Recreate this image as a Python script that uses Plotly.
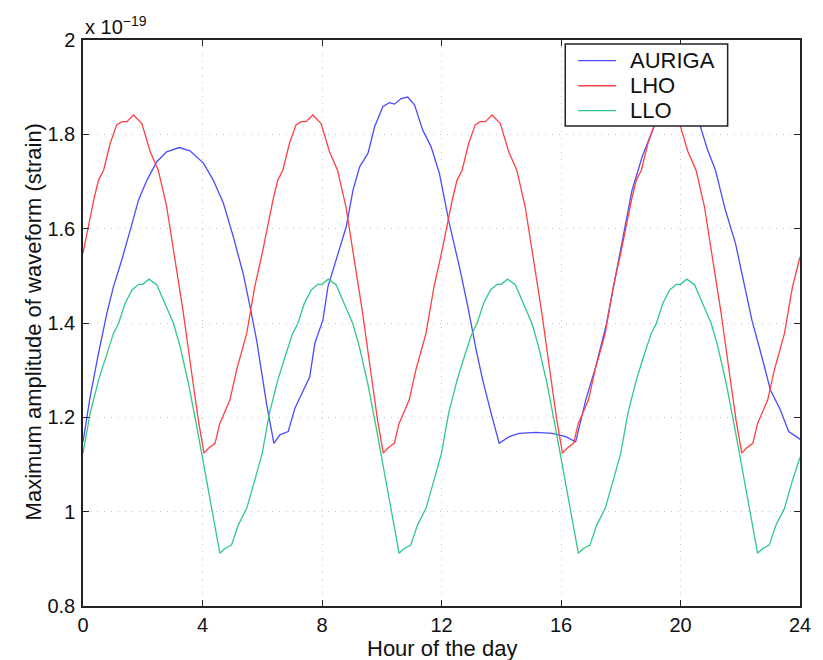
import plotly.graph_objects as go

# ---------------- data ----------------
auriga_x = [0, 0.24, 0.52, 0.80, 1.02, 1.30, 1.58, 1.86, 2.14, 2.47, 2.80, 3.22, 3.58,
            4.03, 4.36, 4.70, 5.03, 5.36, 5.59, 5.81, 6.14, 6.39, 6.59, 6.87, 7.09, 7.37,
            7.59, 7.76, 8.03, 8.20, 8.53, 8.81, 9.04, 9.26, 9.54, 9.76, 10.04, 10.26,
            10.43, 10.65, 10.87, 11.10, 11.37, 11.65, 11.93, 12.26, 12.60, 12.88, 13.16,
            13.38, 13.66, 13.93, 14.27, 14.60, 15.16, 15.71, 16.16, 16.49, 16.83, 17.16,
            17.50, 17.83, 18.11, 18.38, 18.72, 19.11, 19.40, 19.70, 20.00, 20.30, 20.67,
            20.89, 21.17, 21.50, 21.84, 22.11, 22.39, 22.72, 23.01, 23.34, 23.62, 23.95, 24.0]
auriga_y = [1.148, 1.244, 1.336, 1.421, 1.477, 1.534, 1.597, 1.661, 1.703, 1.742, 1.763,
            1.772, 1.765, 1.739, 1.703, 1.654, 1.583, 1.505, 1.435, 1.364, 1.230, 1.145,
            1.163, 1.170, 1.219, 1.258, 1.286, 1.357, 1.406, 1.477, 1.548, 1.604, 1.682,
            1.731, 1.760, 1.816, 1.859, 1.867, 1.864, 1.876, 1.879, 1.862, 1.809, 1.774,
            1.717, 1.611, 1.519, 1.435, 1.343, 1.279, 1.209, 1.145, 1.159, 1.166, 1.168,
            1.166, 1.159, 1.148, 1.237, 1.307, 1.392, 1.498, 1.590, 1.682, 1.753, 1.816,
            1.850, 1.870, 1.875, 1.860, 1.816, 1.770, 1.724, 1.640, 1.569, 1.491, 1.406,
            1.329, 1.258, 1.216, 1.170, 1.156, 1.153]

lho_x = [0, 0.36, 0.52, 0.69, 0.91, 1.13, 1.30, 1.47, 1.69, 1.97, 2.25, 2.52, 2.80, 3.08,
         3.36, 3.64, 3.86, 4.05, 4.19, 4.42, 4.58, 4.92, 5.14, 5.48, 5.75,
         6.00, 6.36, 6.52, 6.69, 6.91, 7.13, 7.30, 7.47, 7.69, 7.97, 8.25, 8.52, 8.80, 9.08,
         9.36, 9.64, 9.86, 10.05, 10.19, 10.42, 10.58, 10.92, 11.14, 11.48, 11.75,
         12.00, 12.36, 12.52, 12.69, 12.91, 13.13, 13.30, 13.47, 13.69, 13.97, 14.25, 14.52,
         14.80, 15.08, 15.36, 15.64, 15.86, 16.05, 16.19, 16.42, 16.58, 16.92, 17.14, 17.48,
         17.75, 18.00, 18.36, 18.52, 18.69, 18.91, 19.13, 19.30, 19.47, 19.69, 19.97, 20.25,
         20.52, 20.80, 21.08, 21.36, 21.64, 21.86, 22.05, 22.19, 22.42, 22.58, 22.92, 23.14,
         23.48, 23.75, 24.0]
lho_y = [1.548, 1.661, 1.703, 1.724, 1.781, 1.820, 1.827, 1.827, 1.841, 1.823, 1.763, 1.724,
         1.647, 1.534, 1.421, 1.293, 1.194, 1.124, 1.134, 1.145, 1.187, 1.237, 1.300, 1.378,
         1.477,
         1.548, 1.661, 1.703, 1.724, 1.781, 1.820, 1.827, 1.827, 1.841, 1.823, 1.763, 1.724,
         1.647, 1.534, 1.421, 1.293, 1.194, 1.124, 1.134, 1.145, 1.187, 1.237, 1.300, 1.378,
         1.477,
         1.548, 1.661, 1.703, 1.724, 1.781, 1.820, 1.827, 1.827, 1.841, 1.823, 1.763, 1.724,
         1.647, 1.534, 1.421, 1.293, 1.194, 1.124, 1.134, 1.145, 1.187, 1.237, 1.300, 1.378,
         1.477,
         1.548, 1.661, 1.703, 1.724, 1.781, 1.820, 1.827, 1.827, 1.841, 1.823, 1.763, 1.724,
         1.647, 1.534, 1.421, 1.293, 1.194, 1.124, 1.134, 1.145, 1.187, 1.237, 1.300, 1.378,
         1.477, 1.540]

llo_x = [0, 0.24, 0.52, 0.80, 1.02, 1.19, 1.41, 1.64, 1.86, 2.00, 2.21, 2.47, 2.75, 3.03,
         3.25, 3.53, 3.81, 4.08, 4.36, 4.58, 4.75, 4.97, 5.20, 5.48, 5.75,
         6.00, 6.24, 6.52, 6.80, 7.02, 7.19, 7.41, 7.64, 7.86, 8.00, 8.21, 8.47, 8.75, 9.03,
         9.25, 9.53, 9.81, 10.08, 10.36, 10.58, 10.75, 10.97, 11.20, 11.48, 11.75,
         12.00, 12.24, 12.52, 12.80, 13.02, 13.19, 13.41, 13.64, 13.86, 14.00, 14.21, 14.47,
         14.75, 15.03, 15.25, 15.53, 15.81, 16.08, 16.36, 16.58, 16.75, 16.97, 17.20, 17.48,
         17.75, 18.00, 18.24, 18.52, 18.80, 19.02, 19.19, 19.41, 19.64, 19.86, 20.00, 20.21,
         20.47, 20.75, 21.03, 21.25, 21.53, 21.81, 22.08, 22.36, 22.58, 22.75, 22.97, 23.20,
         23.48, 23.75, 24.0]
llo_y = [1.124, 1.209, 1.279, 1.336, 1.378, 1.399, 1.442, 1.470, 1.482, 1.482, 1.493, 1.481,
         1.438, 1.399, 1.350, 1.272, 1.180, 1.088, 0.989, 0.912, 0.922, 0.929, 0.972, 1.007,
         1.067,
         1.124, 1.209, 1.279, 1.336, 1.378, 1.399, 1.442, 1.470, 1.482, 1.482, 1.493, 1.481,
         1.438, 1.399, 1.350, 1.272, 1.180, 1.088, 0.989, 0.912, 0.922, 0.929, 0.972, 1.007,
         1.067,
         1.124, 1.209, 1.279, 1.336, 1.378, 1.399, 1.442, 1.470, 1.482, 1.482, 1.493, 1.481,
         1.438, 1.399, 1.350, 1.272, 1.180, 1.088, 0.989, 0.912, 0.922, 0.929, 0.972, 1.007,
         1.067,
         1.124, 1.209, 1.279, 1.336, 1.378, 1.399, 1.442, 1.470, 1.482, 1.482, 1.493, 1.481,
         1.438, 1.399, 1.350, 1.272, 1.180, 1.088, 0.989, 0.912, 0.922, 0.929, 0.972, 1.007,
         1.067, 1.115]

series_names = ["AURIGA", "LHO", "LLO"]
series_colors = ["#4b4bff", "#ff4040", "#2fc88a"]

x_ticks = [0, 4, 8, 12, 16, 20, 24]
y_ticks = [0.8, 1.0, 1.2, 1.4, 1.6, 1.8, 2.0]
y_tick_text = ["0.8", "1", "1.2", "1.4", "1.6", "1.8", "2"]

FONT = "Liberation Sans, Arial, sans-serif"

fig = go.Figure()
for xs, ys, nm, col in zip([auriga_x, lho_x, llo_x], [auriga_y, lho_y, llo_y],
                           series_names, series_colors):
    fig.add_trace(go.Scatter(x=xs, y=ys, mode="lines", name=nm,
                             line=dict(color=col, width=1.3), showlegend=False))

axis_common = dict(
    showgrid=True, gridcolor="#c4c4c4", griddash="1px,6px", gridwidth=1,
    showline=True, linecolor="#222", linewidth=1.5, mirror="ticks",
    ticks="inside", ticklen=6, tickwidth=1, tickcolor="#222",
    zeroline=False, tickfont=dict(family=FONT, size=20, color="#111"),
)

fig.update_xaxes(range=[0, 24], tickvals=x_ticks, **axis_common)
fig.update_yaxes(range=[0.8, 2.0], tickvals=y_ticks, ticktext=y_tick_text,
                 ticklabelstandoff=2, **axis_common)

# ---- legend box drawn in paper coordinates (matches the reference's tight rows) ----
leg_x0, leg_x1, leg_y0, leg_y1 = 0.6726, 0.8991, 0.8481, 0.9929
row_y = [0.9634, 0.9192, 0.8751]
shapes = [dict(type="rect", xref="paper", yref="paper", x0=leg_x0, x1=leg_x1,
               y0=leg_y0, y1=leg_y1, fillcolor="white",
               line=dict(color="#222", width=1.5), layer="above")]
annotations = []
for nm, col, ry in zip(series_names, series_colors, row_y):
    shapes.append(dict(type="line", xref="paper", yref="paper", x0=0.6907, x1=0.7435,
                       y0=ry, y1=ry, line=dict(color=col, width=1.3), layer="above"))
    annotations.append(dict(text=nm, xref="paper", yref="paper", x=0.7600, y=ry,
                            xanchor="left", yanchor="middle", showarrow=False,
                            font=dict(family=FONT, size=22, color="#111")))

annotations += [
    dict(text="Hour of the day", xref="paper", yref="paper", x=0.5, y=-0.075,
         xanchor="center", yanchor="middle", showarrow=False,
         font=dict(family=FONT, size=22, color="#111")),
    dict(text="Maximum amplitude of waveform (strain)", xref="paper", yref="paper",
         x=-0.069, y=0.502, xanchor="center", yanchor="middle", textangle=-90,
         showarrow=False, font=dict(family=FONT, size=22, color="#111")),
    dict(text="x 10<sup>−19</sup>", xref="paper", yref="paper", x=0.0, y=1.0,
         xanchor="left", yanchor="bottom", showarrow=False,
         font=dict(family=FONT, size=20, color="#111")),
]

fig.update_layout(
    width=823, height=660,
    margin=dict(l=83, r=21, t=40, b=54),
    paper_bgcolor="white", plot_bgcolor="white",
    font=dict(family=FONT, size=20, color="#111"),
    showlegend=False,
    shapes=shapes,
    annotations=annotations,
)

fig.write_html("out.html")
